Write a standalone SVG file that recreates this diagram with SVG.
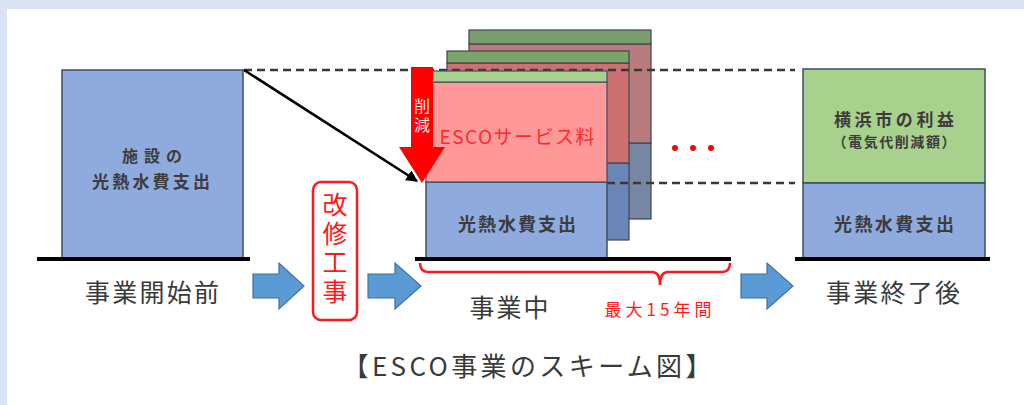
<svg xmlns="http://www.w3.org/2000/svg" width="1024" height="405" viewBox="0 0 1024 405">
<defs>
<style>
.t{font-family:"Noto Sans CJK JP","Noto Sans",sans-serif;fill:#3a3a3a;dominant-baseline:central;text-anchor:middle}
.b{font-weight:bold;fill:#3c3c3c}
.r{fill:#ff1a1a}
.base{stroke:#000;stroke-width:4}
.blue{fill:#8faadc;stroke:#3f4d66;stroke-width:1.5}
.green{fill:#a9d18e;stroke:#3f4d66;stroke-width:1.2}
.pink{fill:#ff9999;stroke:#3f4d66;stroke-width:1.2}
.flow{fill:#5b9bd5;stroke:#41719c;stroke-width:1.2}
.dash{stroke:#383838;stroke-width:2.5;stroke-dasharray:8 5;fill:none}
</style>
<marker id="ah" viewBox="0 0 10 10" refX="9" refY="5" markerWidth="4.5" markerHeight="4.5" orient="auto">
<path d="M0,0 L10,5 L0,10 Z" fill="#000"/>
</marker>
</defs>
<rect x="0" y="0" width="1024" height="405" fill="#fff"/>
<rect x="0" y="0" width="1024" height="9" fill="#dae3f3"/>
<rect x="0" y="0" width="7" height="405" fill="#dae3f3"/>

<g id="before">
<rect class="blue" x="62" y="70" width="181" height="188"/>
<text class="t b" x="152" y="155" font-size="16" textLength="60">施設の</text>
<text class="t b" x="151" y="180" font-size="17" textLength="118">光熱水費支出</text>
<line class="base" x1="37" y1="259" x2="250" y2="259"/>
<text class="t" x="152" y="291" font-size="25" textLength="134">事業開始前</text>
</g>

<g id="card3">
<rect x="469" y="143" width="182" height="76" fill="#7786a3" stroke="#3f4550" stroke-width="1.2"/>
<rect x="469" y="44" width="182" height="99" fill="#b87c7c" stroke="#3f4550" stroke-width="1.2"/>
<rect x="469" y="30" width="182" height="14" fill="#7a9e6e" stroke="#3f4550" stroke-width="1.2"/>
</g>
<g id="card2">
<rect x="447" y="163" width="182" height="77" fill="#6a86b8" stroke="#3f4550" stroke-width="1.2"/>
<rect x="447" y="63" width="182" height="100" fill="#cc7070" stroke="#3f4550" stroke-width="1.2"/>
<rect x="447" y="51" width="182" height="12" fill="#7aa56a" stroke="#3f4550" stroke-width="1.2"/>
</g>

<g id="connectors">
<line class="dash" x1="244" y1="70" x2="795" y2="70"/>
<line class="dash" x1="607" y1="183" x2="795" y2="183"/>
<line x1="244" y1="70" x2="417" y2="181" stroke="#000" stroke-width="2.6" marker-end="url(#ah)"/>
<path class="flow" d="M253,274 H279 V263 L304,286 L279,309 V298 H253 Z"/>
<path class="flow" d="M368,274 H395 V263 L421,286 L395,309 V298 H368 Z"/>
<path class="flow" d="M741,274 H767 V263 L793,286 L767,309 V298 H741 Z"/>
</g>

<g id="during">
<rect class="blue" x="426" y="182" width="181" height="76"/>
<rect class="pink" x="426" y="82" width="181" height="100"/>
<rect class="green" x="426" y="71" width="181" height="11"/>
<text class="t" x="517" y="135" font-size="19" textLength="155" style="fill:#ff2a2a">ESCOサービス料</text>
<text class="t b" x="517" y="223" font-size="18" textLength="118">光熱水費支出</text>
<line class="base" x1="415" y1="259" x2="731" y2="259"/>
<path d="M420,263 Q420,272 428,272 L652,272 Q660,272 660,285 Q660,272 668,272 L722,272 Q730,272 730,263" fill="none" stroke="#ff1a1a" stroke-width="2.5"/>
<text class="t" x="509" y="306" font-size="25" textLength="79">事業中</text>
<text class="t r" x="658" y="308" font-size="17" textLength="107">最大15年間</text>
<circle cx="675" cy="148" r="3" fill="#ff0000"/>
<circle cx="693" cy="148" r="3" fill="#ff0000"/>
<circle cx="711" cy="148" r="3" fill="#ff0000"/>
</g>

<g id="reduction">
<path d="M411,67 H433 V147 H445 L422,183 L399,147 H411 Z" fill="#ff0000"/>
<text x="422" y="98" font-size="16" writing-mode="vertical-rl" letter-spacing="3" font-family="'Noto Sans CJK JP','Noto Sans',sans-serif" fill="#ffe6e6">削減</text>
</g>

<g id="renovation">
<rect x="313" y="182" width="44" height="138" rx="8" fill="#fff" stroke="#ff1a1a" stroke-width="2.5"/>
<text x="335" y="192" font-size="25" writing-mode="vertical-rl" letter-spacing="4" font-family="'Noto Sans CJK JP','Noto Sans',sans-serif" fill="#ff1a1a">改修工事</text>
</g>

<g id="after">
<rect class="green" x="803" y="69" width="182" height="114" style="stroke-width:1.5"/>
<rect class="blue" x="803" y="183" width="182" height="75"/>
<text class="t b" x="894" y="118" font-size="17" textLength="120">横浜市の利益</text>
<text class="t b" x="894" y="141" font-size="14" textLength="123">（電気代削減額）</text>
<text class="t b" x="894" y="223" font-size="18" textLength="120">光熱水費支出</text>
<line class="base" x1="795" y1="259" x2="990" y2="259"/>
<text class="t" x="893" y="291" font-size="25" textLength="134">事業終了後</text>
</g>

<g id="title">
<text class="t" x="527" y="364" font-size="26" textLength="369">【ESCO事業のスキーム図】</text>
</g>
</svg>
